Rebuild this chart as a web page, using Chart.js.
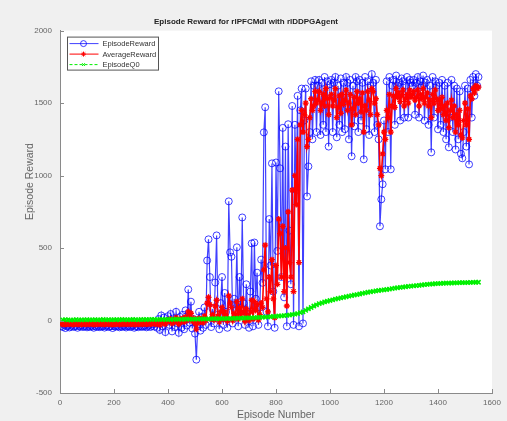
<!DOCTYPE html>
<html>
<head>
<meta charset="utf-8">
<script src="https://cdn.jsdelivr.net/npm/chart.js@4.4.0/dist/chart.umd.min.js"></script>
<style>
  html, body { margin: 0; padding: 0; background: #f0f0f0; }
  canvas { display: block; }
</style>
</head>
<body>
<canvas id="rewardChart" width="507" height="421"></canvas>
<script>
// Episode numbers: reward series logged every 5 episodes, Q0 every 10
const rewardStep = 5;
const q0Step = 10;

// EpisodeReward (blue circles), one row = 50 episodes
const episodeReward = [
  -38, -45, -30, -52, -40, -35, -48, -42, -30, -44,
  -40, -36, -50, -38, -42, -33, -45, -40, -37, -47,
  -39, -44, -35, -41, -50, -38, -43, -36, -46, -40,
  -42, -37, -49, -40, -34, -45, -41, -38, -52, -39,
  -43, -36, -40, -47, -38, -44, -35, -41, -48, -39,
  -37, -45, -40, -33, -50, -42, -38, -46, -36, -41,
  -44, -39, -35, -47, -40, -30, -45, -38, -25, -42,
  -20, -50, 10, -65, 35, -40, 20, -80, -10, 30,
  -30, 45, -75, 15, -45, 60, -20, -85, 25, -50,
  40, -60, 70, -35, 214, -15, 130, -55, 10, -90,
  -270, -40, 60, -70, 25, -50, 90, -30, 414, 560,
  300, -45, 80, -20, 262, 587, 40, -60, 120, 300,
  -30, 190, 60, -50, 822, 470, 440, -20, 150, 70,
  505, -40, 300, 90, 711, 120, -30, 250, 60, -50,
  200, 532, -40, 538, 150, 330, -30, 90, 420, 260,
  1298, 1471, 60, -40, 700, 380, 1084, 200, -50, 1090,
  480, 1581, 1050, 300, 1329, 160, 1200, -40, 1354, 620,
  250, 1480, -30, 1350, 900, 1550, -40, 1450, 1600, -20,
  1380, 1600, 856, 1063, 1300, 1650, 1250, 1620, 1660, 1300,
  1620, 1660, 1280, 1640, 1350, 1680, 1300, 1650, 1200, 1630,
  1660, 1300, 1640, 1680, 1264, 1620, 1350, 1670, 1300, 1640,
  1320, 1680, 1640, 1250, 1660, 1133, 1620, 1340, 1680, 1650,
  1300, 1660, 1380, 1640, 1112, 1680, 1320, 1650, 1280, 1620,
  1700, 1640, 1300, 1660, 1350, 1250, 650, 836, 940, 1380,
  1043, 1650, 1300, 1680, 1043, 1620, 1660, 1350, 1690, 1620,
  1640, 1380, 1670, 1650, 1400, 1620, 1680, 1400, 1660, 1640,
  1620, 1660, 1420, 1640, 1680, 1400, 1650, 1620, 1690, 1380,
  1640, 1660, 1350, 1620, 1160, 1680, 1400, 1650, 1620, 1319,
  1640, 1350, 1660, 1300, 1620, 1250, 1640, 1195, 1400, 1660,
  1300, 1620, 1180, 1600, 1250, 1580, 1150, 1119, 1300, 1620,
  1200, 1600, 1077, 1660, 1400, 1680, 1550, 1700, 1620, 1680
];

// AverageReward (red stars)
const averageReward = [
  -22, -25, -20, -28, -24, -23, -26, -21, -25, -27,
  -24, -22, -26, -25, -23, -27, -24, -22, -25, -26,
  -23, -25, -21, -24, -27, -25, -22, -26, -24, -23,
  -25, -22, -27, -24, -21, -26, -23, -25, -28, -24,
  -26, -22, -24, -27, -23, -25, -21, -24, -26, -23,
  -22, -26, -24, -20, -27, -25, -23, -26, -22, -24,
  -25, -23, -21, -26, -24, -18, -25, -22, -15, -24,
  -20, -25, -10, -30, 0, -15, -5, -25, -10, 5,
  -5, 10, -20, 0, -10, 20, -5, -25, 10, -10,
  15, -10, 25, 0, 60, 20, 50, -5, 15, -20,
  -60, -20, 15, -10, 10, -15, 30, 0, 120, 160,
  110, 10, 40, 5, 100, 140, 30, -10, 60, 90,
  10, 60, 30, -5, 170, 120, 90, 0, 50, 40,
  130, 10, 90, 40, 150, 60, -5, 80, 30, 0,
  60, 140, 10, 130, 70, 110, 5, 40, 120, 90,
  350, 520, 150, 60, 300, 200, 420, 150, 20, 380,
  250, 700, 600, 300, 650, 200, 500, 100, 750, 400,
  300, 900, 200, 1000, 800, 1250, 400, 1350, 1450, 1300,
  1420, 1500, 1200, 1250, 1400, 1530, 1450, 1480, 1580, 1500,
  1520, 1580, 1450, 1500, 1560, 1480, 1600, 1530, 1420, 1540,
  1560, 1480, 1520, 1600, 1400, 1470, 1550, 1430, 1560, 1490,
  1520, 1590, 1450, 1500, 1560, 1350, 1460, 1540, 1420, 1580,
  1500, 1530, 1440, 1570, 1300, 1480, 1450, 1580, 1520, 1420,
  1600, 1580, 1500, 1530, 1420, 1350, 1050, 1000, 1150, 1300,
  1250, 1450, 1400, 1560, 1300, 1480, 1550, 1470, 1600, 1540,
  1570, 1510, 1550, 1590, 1480, 1530, 1560, 1500, 1590, 1540,
  1560, 1580, 1520, 1540, 1590, 1480, 1560, 1530, 1600, 1500,
  1540, 1570, 1480, 1520, 1400, 1560, 1500, 1590, 1530, 1450,
  1520, 1460, 1540, 1420, 1480, 1380, 1500, 1330, 1450, 1520,
  1400, 1480, 1300, 1420, 1350, 1450, 1280, 1260, 1380, 1500,
  1350, 1460, 1250, 1550, 1530, 1600, 1570, 1620, 1600, 1610
];

// EpisodeQ0 (green), one row = 100 episodes
const episodeQ0 = [
  4, 6, 5, 3, 5, 6, 4, 5, 5, 6,
  5, 4, 6, 5, 5, 7, 5, 6, 4, 6,
  6, 5, 7, 6, 5, 6, 7, 6, 5, 7,
  6, 7, 6, 8, 7, 6, 8, 7, 7, 8,
  7, 8, 9, 8, 8, 9, 10, 9, 9, 10,
  10, 11, 10, 12, 11, 12, 13, 12, 13, 14,
  13, 14, 15, 14, 16, 15, 17, 16, 18, 18,
  19, 20, 20, 22, 23, 24, 25, 26, 28, 29,
  31, 32, 34, 36, 38, 41, 44, 48, 54, 60,
  70, 80, 90, 100, 108, 116, 122, 128, 133, 138,
  143, 148, 152, 156, 160, 164, 168, 172, 176, 179,
  183, 187, 191, 195, 198, 201, 204, 207, 210, 212,
  214, 217, 220, 223, 226, 228, 231, 233, 235, 237,
  239, 241, 243, 245, 247, 249, 251, 252, 254, 255,
  256, 257, 258, 258, 259, 260, 260, 261, 261, 262,
  262, 263, 263, 264, 264
];

const xTicks = { min: 0, max: 1600, step: 200 };
const yTicks = { min: -500, max: 2000, step: 500 };

const toPoints = (values, step) => values.map((v, i) => ({ x: (i + 1) * step, y: v }));

const FONT = 'Liberation Sans, Arial, sans-serif';
const AXIS_COLOR = '#8a8a8a';
const LABEL_COLOR = '#666';
const BLUE = 'rgba(0,0,255,0.75)';
const RED = '#ff0000';
const GREEN = '#00f000';

const legendItems = [
  { label: 'EpisodeReward', color: BLUE, style: 'circle', radius: 3, dash: [] },
  { label: 'AverageReward', color: RED, style: 'star', radius: 2.5, dash: [] },
  { label: 'EpisodeQ0', color: GREEN, style: 'crossRot', radius: 2, dash: [3, 2] }
];

// figure grey behind, white axes area
const backgroundPlugin = {
  id: 'background',
  beforeDraw(chart) {
    const { ctx, chartArea: a } = chart;
    ctx.save();
    ctx.fillStyle = '#f0f0f0';
    ctx.fillRect(0, 0, chart.width, chart.height);
    ctx.fillStyle = '#ffffff';
    ctx.fillRect(a.left, a.top, a.right - a.left, a.bottom - a.top);
    ctx.restore();
  }
};

// MATLAB style ticks pointing into the axes, plus the y label
const innerTicksPlugin = {
  id: 'innerTicks',
  afterDatasetsDraw(chart) {
    const { ctx, chartArea: a, scales } = chart;
    ctx.save();
    ctx.strokeStyle = AXIS_COLOR;
    ctx.lineWidth = 1;
    scales.x.ticks.forEach(t => {
      const px = Math.round(scales.x.getPixelForValue(t.value)) + 0.5;
      ctx.beginPath(); ctx.moveTo(px, a.bottom); ctx.lineTo(px, a.bottom - 4); ctx.stroke();
    });
    scales.y.ticks.forEach(t => {
      const py = Math.round(scales.y.getPixelForValue(t.value)) + 0.5;
      ctx.beginPath(); ctx.moveTo(a.left, py); ctx.lineTo(a.left + 4, py); ctx.stroke();
    });
    // ylabel sits a bit above the axis middle in the original
    ctx.translate(30, a.top + 151);
    ctx.rotate(-Math.PI / 2);
    ctx.fillStyle = LABEL_COLOR;
    ctx.font = '10.5px ' + FONT;
    ctx.textAlign = 'center';
    ctx.textBaseline = 'middle';
    ctx.fillText('Episode Reward', 0, 0);
    ctx.restore();
  }
};

// legend box in the top-left corner of the axes
const boxLegendPlugin = {
  id: 'boxLegend',
  afterDraw(chart) {
    const { ctx, chartArea: a } = chart;
    const x0 = a.left + 7.5, y0 = a.top + 6.5, w = 91, h = 33;
    ctx.save();
    ctx.fillStyle = '#ffffff';
    ctx.fillRect(x0, y0, w, h);
    ctx.strokeStyle = '#555';
    ctx.lineWidth = 1;
    ctx.strokeRect(x0, y0, w, h);
    legendItems.forEach((it, i) => {
      const y = y0 + 6.5 + i * 10.5;
      ctx.strokeStyle = it.color;
      ctx.setLineDash(it.dash);
      ctx.beginPath(); ctx.moveTo(x0 + 2, y); ctx.lineTo(x0 + 31, y); ctx.stroke();
      ctx.setLineDash([]);
      ctx.fillStyle = it.style === 'circle' ? 'rgba(0,0,0,0)' : it.color;
      Chart.helpers.drawPoint(ctx, { pointStyle: it.style, radius: it.radius, rotation: 0, borderWidth: 1 }, x0 + 16, y);
      ctx.fillStyle = '#333';
      ctx.font = '7.5px ' + FONT;
      ctx.textBaseline = 'middle';
      ctx.fillText(it.label, x0 + 35, y + 0.5);
    });
    ctx.restore();
  }
};

const plainTick = v => String(v);

new Chart(document.getElementById('rewardChart'), {
  type: 'line',
  data: {
    datasets: [
      {
        label: 'EpisodeReward',
        data: toPoints(episodeReward, rewardStep),
        borderColor: BLUE,
        borderWidth: 1.2,
        pointStyle: 'circle',
        pointRadius: 3.5,
        pointBorderWidth: 1,
        pointBorderColor: BLUE,
        pointBackgroundColor: 'rgba(0,0,0,0)',
        tension: 0,
        order: 3
      },
      {
        label: 'AverageReward',
        data: toPoints(averageReward, rewardStep),
        borderColor: RED,
        borderWidth: 1.6,
        pointStyle: 'star',
        pointRadius: 3,
        pointBorderWidth: 1.3,
        pointBorderColor: RED,
        pointBackgroundColor: RED,
        tension: 0,
        order: 2
      },
      {
        label: 'EpisodeQ0',
        data: toPoints(episodeQ0, q0Step),
        borderColor: GREEN,
        borderWidth: 3,
        borderDash: [3, 1],
        pointStyle: 'crossRot',
        pointRadius: 3,
        pointBorderWidth: 1.5,
        pointBorderColor: GREEN,
        tension: 0,
        order: 1
      }
    ]
  },
  options: {
    responsive: false,
    animation: false,
    devicePixelRatio: 1,
    layout: { padding: { left: 0, right: 15, top: 0, bottom: 0 } },
    plugins: {
      legend: { display: false },
      tooltip: { enabled: false },
      title: {
        display: true,
        text: 'Episode Reward for rlPFCMdl with rlDDPGAgent',
        color: '#222',
        font: { family: FONT, size: 8, weight: 'bold' },
        padding: { top: 17, bottom: 4 }
      }
    },
    scales: {
      x: {
        type: 'linear',
        min: xTicks.min,
        max: xTicks.max,
        ticks: { stepSize: xTicks.step, callback: plainTick, color: LABEL_COLOR, font: { family: FONT, size: 8 }, padding: 5 },
        grid: { drawOnChartArea: false, drawTicks: false },
        border: { color: AXIS_COLOR },
        title: { display: true, text: 'Episode Number', color: LABEL_COLOR, font: { family: FONT, size: 10.5 }, padding: { top: 0, bottom: 0 } },
        afterFit: s => { s.height = 28; }
      },
      y: {
        type: 'linear',
        min: yTicks.min,
        max: yTicks.max,
        ticks: { stepSize: yTicks.step, callback: plainTick, color: LABEL_COLOR, font: { family: FONT, size: 8 }, padding: 8 },
        grid: { drawOnChartArea: false, drawTicks: false },
        border: { color: AXIS_COLOR },
        afterFit: s => { s.width = 60; }
      }
    }
  },
  plugins: [backgroundPlugin, innerTicksPlugin, boxLegendPlugin]
});
</script>
</body>
</html>
